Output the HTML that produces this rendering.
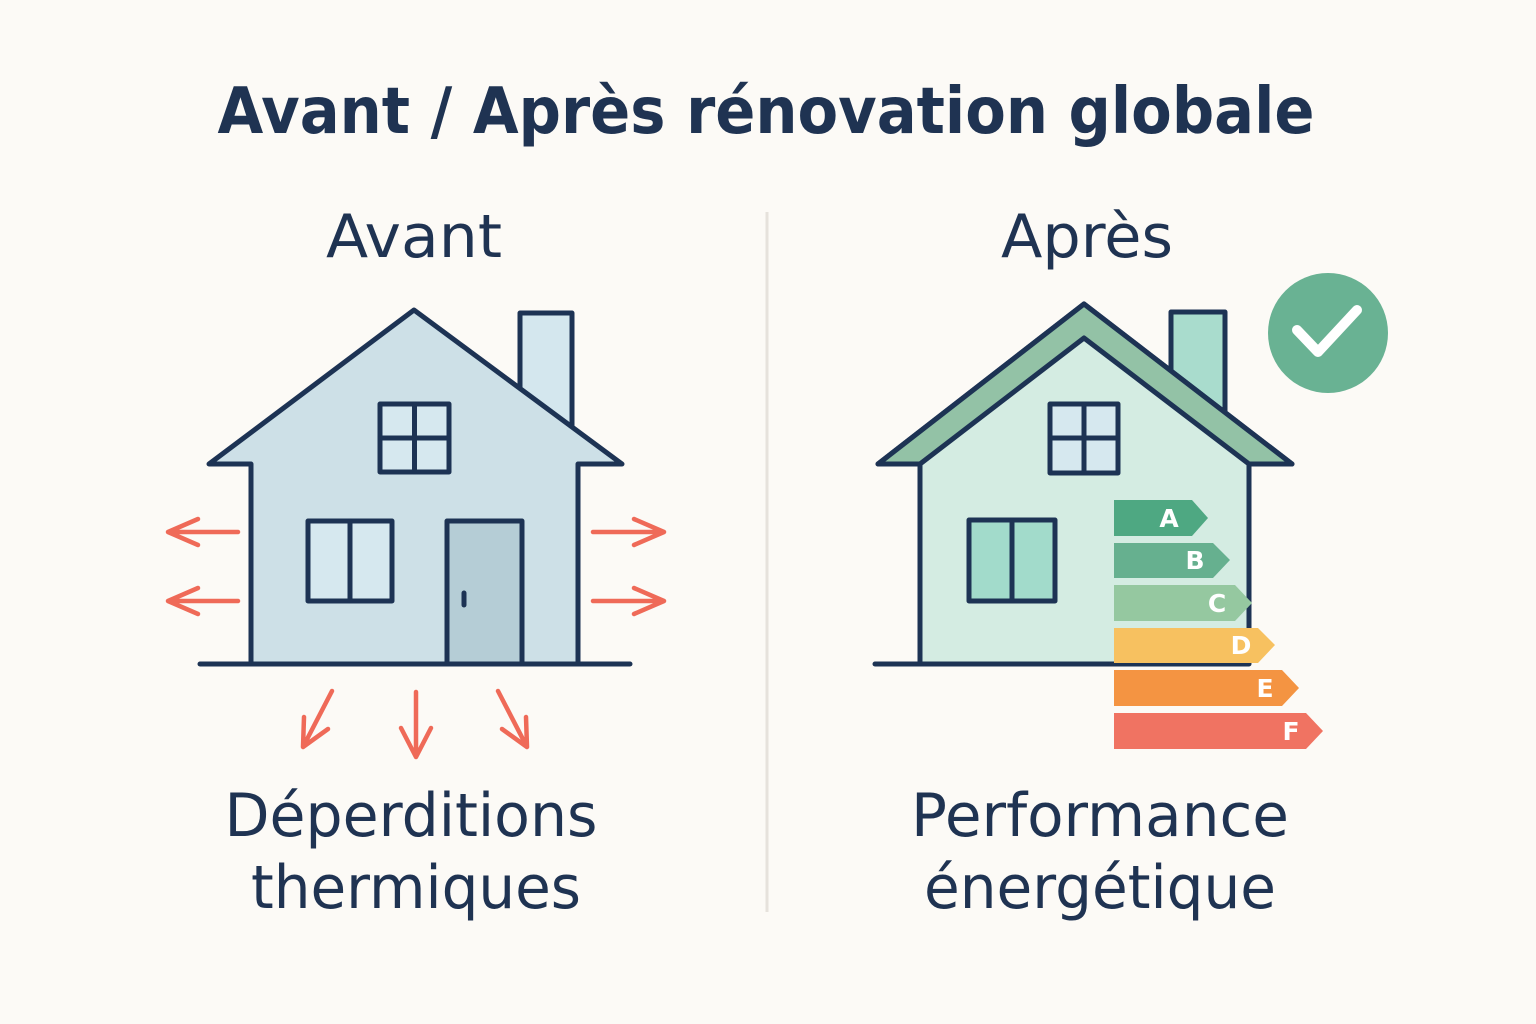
<!DOCTYPE html>
<html><head><meta charset="utf-8"><style>
html,body{margin:0;padding:0;background:#fcfaf6;}
svg{display:block}
text{font-family:"DejaVu Sans","Liberation Sans",sans-serif;fill:#1f3352;text-anchor:middle}
</style></head><body>
<svg width="1536" height="1024" viewBox="0 0 1536 1024">
<rect width="1536" height="1024" fill="#fcfaf6"/>
<text x="766" y="133" font-size="64" font-weight="bold" textLength="1097" lengthAdjust="spacingAndGlyphs">Avant / Après rénovation globale</text>
<text x="414" y="257" font-size="60" textLength="176" lengthAdjust="spacingAndGlyphs">Avant</text>
<text x="1087" y="257" font-size="60" textLength="172" lengthAdjust="spacingAndGlyphs">Après</text>
<line x1="767" y1="212" x2="767" y2="912" stroke="#e6e2dc" stroke-width="3"/>
<text x="411" y="836" font-size="60" textLength="373" lengthAdjust="spacingAndGlyphs">Déperditions</text>
<text x="416" y="908" font-size="60" textLength="330" lengthAdjust="spacingAndGlyphs">thermiques</text>
<text x="1100" y="836" font-size="60" textLength="378" lengthAdjust="spacingAndGlyphs">Performance</text>
<text x="1100" y="908" font-size="60" textLength="352" lengthAdjust="spacingAndGlyphs">énergétique</text>

<g stroke="#1d3354" stroke-width="5" stroke-linejoin="round" stroke-linecap="round">
<rect x="520" y="313" width="52" height="120" fill="#d4e7ee"/>
<path d="M251 664 V464 H209 L414 310 L622 464 H578 V664 Z" fill="#cde0e7"/>
<line x1="200" y1="664" x2="630" y2="664"/>
<rect x="380" y="404" width="69" height="68" fill="#d6e8ef"/>
<line x1="414.5" y1="404" x2="414.5" y2="472"/><line x1="380" y1="438" x2="449" y2="438"/>
<rect x="308" y="521" width="84" height="80" fill="#d6e8ef"/>
<line x1="350" y1="521" x2="350" y2="601"/>
<rect x="447" y="521" width="75" height="143" fill="#b5cdd6"/>
<line x1="464" y1="593" x2="464" y2="605"/>
</g>
<g stroke="#ef6a58" stroke-width="4.5" fill="none" stroke-linecap="round" stroke-linejoin="round">
<path d="M238 532 H168 M198 519 L168 532 L198 545"/>
<path d="M238 601 H168 M198 588 L168 601 L198 614"/>
<path d="M593 532 H664 M634 519 L664 532 L634 545"/>
<path d="M593 601 H664 M634 588 L664 601 L634 614"/>
<path d="M332 691 L303 747 M304 717 L303 747 L328 729"/>
<path d="M416 692 V757 M401 728 L416 757 L431 728"/>
<path d="M498 691 L527 747 M526 717 L527 747 L502 729"/>
</g>

<g stroke="#1d3354" stroke-width="5" stroke-linejoin="round" stroke-linecap="round">
<rect x="1171" y="312" width="54" height="110" fill="#a9dccd"/>
<path d="M920 664 V464 H878 L1084 304 L1292 464 H1249 V664 Z" fill="#d4ece2"/>
<path d="M878 464 L1084 304 L1292 464 H1249 L1084 338 L920 464 Z" fill="#93c2a6"/>
<line x1="875" y1="664" x2="1106" y2="664"/>
<rect x="1050" y="404" width="68" height="69" fill="#d6e8ef"/>
<line x1="1084" y1="404" x2="1084" y2="473"/><line x1="1050" y1="438" x2="1118" y2="438"/>
<rect x="969" y="520" width="86" height="81" fill="#a2dbcb"/>
<line x1="1012" y1="520" x2="1012" y2="601"/>
</g>
<g font-weight="bold" font-size="25">
<path d="M1114 500 H1192 L1208 518 L1192 536 H1114 Z" fill="#4ea882"/>
<text x="1169" y="527" style="fill:#fff">A</text>
<path d="M1114 543 H1213 L1230 560 L1213 578 H1114 Z" fill="#66b08f"/>
<text x="1195" y="569" style="fill:#fff">B</text>
<path d="M1114 585 H1235 L1252 603 L1235 621 H1114 Z" fill="#95c8a0"/>
<text x="1217" y="612" style="fill:#fff">C</text>
<path d="M1114 628 H1258 L1275 645 L1258 663 H1114 Z" fill="#f7c160"/>
<text x="1241" y="654" style="fill:#fff">D</text>
<path d="M1114 670 H1282 L1299 688 L1282 706 H1114 Z" fill="#f49442"/>
<text x="1265" y="697" style="fill:#fff">E</text>
<path d="M1114 713 H1306 L1323 731 L1306 749 H1114 Z" fill="#f07362"/>
<text x="1291" y="740" style="fill:#fff">F</text>
</g>
<circle cx="1328" cy="333" r="60" fill="#69b293"/>
<path d="M1297 330 L1318 352 L1357 310" stroke="#fff" stroke-width="10" fill="none" stroke-linecap="round" stroke-linejoin="round"/>
</svg>
</body></html>
